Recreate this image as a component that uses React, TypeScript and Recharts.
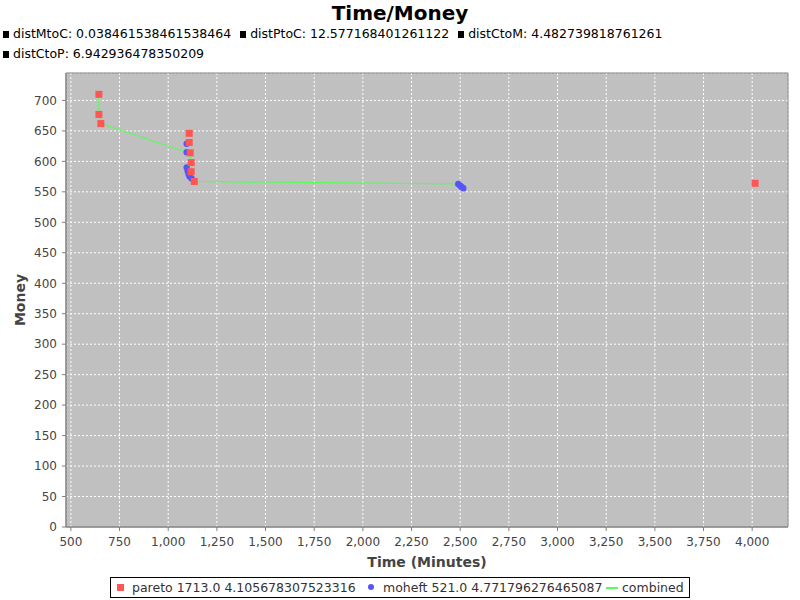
import React from 'react';
import { ScatterChart, Scatter, XAxis, YAxis, CartesianGrid, ReferenceArea } from 'recharts';

// pareto front (red squares)
const paretoTime = [644, 644, 654, 1108, 1108, 1113, 1118, 1118, 1134, 4015];
const paretoMoney = [710, 677, 662, 646, 631, 614, 598, 583, 567, 564];

// moheft (blue circles)
const moheftTime = [1095, 1095, 1095, 1100, 1105, 1110, 1120, 2490, 2500, 2507, 2516];
const moheftMoney = [629, 615, 590, 584, 579, 575, 572, 563, 560, 558, 556];

// combined (green line)
const combinedTime = [644, 644, 654, 1095, 1113, 1118, 1118, 1134, 2490];
const combinedMoney = [710, 677, 662, 615, 614, 598, 583, 567, 563];

const xTicks = [500, 750, 1000, 1250, 1500, 1750, 2000, 2250, 2500, 2750, 3000, 3250, 3500, 3750, 4000];
const yTicks = [0, 50, 100, 150, 200, 250, 300, 350, 400, 450, 500, 550, 600, 650, 700];

const subtitleLine1 = [
  'distMtoC: 0.038461538461538464',
  'distPtoC: 12.577168401261122',
  'distCtoM: 4.482739818761261',
];
const subtitleLine2 = ['distCtoP: 6.942936478350209'];

const legendLabels = ['pareto 1713.0 4.105678307523316', 'moheft 521.0 4.771796276465087', 'combined'];

const toPoints = (xs: number[], ys: number[]) => xs.map((x, i) => ({ x, y: ys[i] }));

const RED = '#ff5555';
const BLUE = '#5555ff';
const GREEN = '#55ff55';
const FONT = '"DejaVu Sans", sans-serif';

const RedSquare = (props: any) => (
  <rect x={props.cx - 3.5} y={props.cy - 3.5} width={7} height={7} fill={RED} />
);
const BlueDot = (props: any) => <circle cx={props.cx} cy={props.cy} r={3.2} fill={BLUE} />;
const NoShape = () => <g />;

function SubtitleRow({ items, top }: { items: string[]; top: number }) {
  return (
    <div style={{ position: 'absolute', left: 3, top, fontSize: 12.5, lineHeight: '16px', whiteSpace: 'nowrap', color: '#000' }}>
      {items.map((t) => (
        <span key={t} style={{ marginRight: 9 }}>
          <span style={{ display: 'inline-block', width: 6, height: 7, background: '#000', marginRight: 4, verticalAlign: 0 }} />
          {t}
        </span>
      ))}
    </div>
  );
}

export default function App() {
  const tickStyle = { fill: '#444', fontSize: 12, fontFamily: FONT };
  const legendText = { position: 'absolute' as const, top: 0, lineHeight: '19px' };
  return (
    <div style={{ position: 'absolute', left: 0, top: 0, width: 800, height: 600, background: '#fff', fontFamily: FONT }}>
      <ScatterChart width={800} height={600} margin={{ top: 73, right: 12, bottom: 28, left: 0 }}>
        <CartesianGrid fill="#c0c0c0" stroke="#ffffff" strokeDasharray="2 2" />
        <XAxis
          type="number"
          dataKey="x"
          domain={[475, 4184]}
          allowDataOverflow
          ticks={xTicks}
          tickFormatter={(v: number) => v.toLocaleString('en-US')}
          height={45}
          tick={tickStyle}
          stroke="#808080"
          tickSize={4}
          tickMargin={6}
          label={{ value: 'Time (Minutes)', position: 'insideBottom', offset: 5, fill: '#444', fontSize: 14, fontWeight: 'bold', fontFamily: FONT }}
        />
        <YAxis
          type="number"
          dataKey="y"
          domain={[0, 745]}
          allowDataOverflow
          ticks={yTicks}
          width={66}
          tick={tickStyle}
          stroke="#808080"
          tickSize={4}
          tickMargin={5}
          label={{ value: 'Money', angle: -90, position: 'insideLeft', offset: 20, fill: '#444', fontSize: 14, fontWeight: 'bold', fontFamily: FONT, style: { textAnchor: 'middle' } }}
        />
        <ReferenceArea x1={475} x2={4184} y1={0} y2={745} fill="none" stroke="#808080" ifOverflow="visible" />
        <Scatter data={toPoints(combinedTime, combinedMoney)} line={{ stroke: GREEN, strokeWidth: 1.2 }} shape={NoShape} isAnimationActive={false} />
        <Scatter data={toPoints(moheftTime, moheftMoney)} shape={BlueDot} isAnimationActive={false} />
        <Scatter data={toPoints(paretoTime, paretoMoney)} shape={RedSquare} isAnimationActive={false} />
      </ScatterChart>

      <div style={{ position: 'absolute', left: 0, top: 0, width: 800, textAlign: 'center', fontSize: 20, fontWeight: 'bold', lineHeight: '26px' }}>
        Time/Money
      </div>
      <SubtitleRow items={subtitleLine1} top={26} />
      <SubtitleRow items={subtitleLine2} top={46} />

      <div
        style={{
          position: 'absolute',
          left: 110,
          top: 577,
          width: 580,
          height: 21,
          boxSizing: 'border-box',
          border: '1px solid #000',
          fontSize: 12.5,
          color: '#333',
          whiteSpace: 'nowrap',
        }}
      >
        <span style={{ position: 'absolute', left: 6, top: 6, width: 7, height: 7, background: RED }} />
        <span style={{ ...legendText, left: 21 }}>{legendLabels[0]}</span>
        <span style={{ position: 'absolute', left: 257, top: 6, width: 6, height: 6, borderRadius: '50%', background: BLUE }} />
        <span style={{ ...legendText, left: 272 }}>{legendLabels[1]}</span>
        <span style={{ position: 'absolute', left: 495, top: 9, width: 12, height: 2, background: GREEN }} />
        <span style={{ ...legendText, left: 511 }}>{legendLabels[2]}</span>
      </div>
    </div>
  );
}
